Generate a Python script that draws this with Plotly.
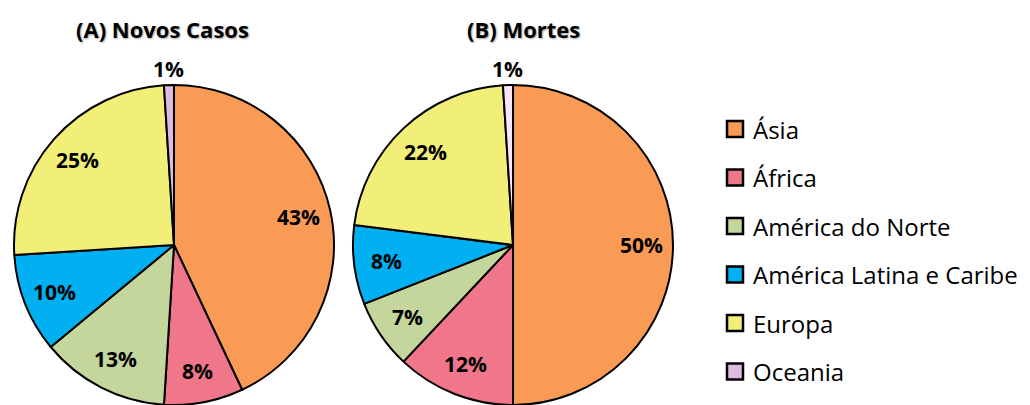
import math
import plotly.graph_objects as go

# Regional shares (%) of new cases and deaths
regions = ["Ásia", "África", "América do Norte", "América Latina e Caribe", "Europa", "Oceania"]
novos_casos = [43, 8, 13, 10, 25, 1]
mortes = [50, 12, 7, 8, 22, 1]
titles = ["(A) Novos Casos", "(B) Mortes"]

colors = ["#F99B55", "#EF7789", "#C4D69C", "#00B0F0", "#F1EF77", "#DCBDE0"]
colors_mortes = ["#F99B55", "#EF7789", "#C4D69C", "#00B0F0", "#F1EF77", "#F8E4FA"]

W, H = 1030, 405
R = 160                       # pie radius in px
CENTERS = [(174, 245), (513, 245)]
TITLE_X = [162, 523]
FONT = "Open Sans"

fig = go.Figure()
annotations = []
shapes = []


def px_to_paper(x, y):
    return x / W, 1 - y / H


for (cx, cy), values, title, cols, title_x in zip(
        CENTERS, [novos_casos, mortes], titles, [colors, colors_mortes], TITLE_X):
    x0, _ = px_to_paper(cx - R, 0)
    x1, _ = px_to_paper(cx + R, 0)
    _, y0 = px_to_paper(0, cy + R)
    _, y1 = px_to_paper(0, cy - R)
    fig.add_trace(go.Pie(
        labels=regions,
        values=values,
        sort=False,
        direction="clockwise",
        rotation=0,
        marker=dict(colors=cols, line=dict(color="black", width=2)),
        textinfo="none",
        hoverinfo="label+percent",
        showlegend=False,
        domain=dict(x=[x0, x1], y=[max(y0, 0), y1]),
    ))

    # percentage labels placed along each slice's mid angle
    total = sum(values)
    cum = 0
    for v in values:
        mid = (cum + v / 2) / total * 2 * math.pi
        cum += v
        frac = 1.1 if v / total < 0.03 else 0.8
        lx = cx + frac * R * math.sin(mid)
        ly = cy - frac * R * math.cos(mid)
        px, py = px_to_paper(lx, ly)
        annotations.append(dict(
            x=px, y=py, xref="paper", yref="paper",
            text=f"<b>{v}%</b>", showarrow=False,
            font=dict(family=FONT, size=21, color="black"),
            xanchor="center", yanchor="middle",
        ))

    # chart title
    tx, ty = px_to_paper(title_x, 29)
    annotations.append(dict(
        x=tx, y=ty, xref="paper", yref="paper",
        text=f"<b>{title}</b>", showarrow=False,
        font=dict(family=FONT, size=22, color="black",
                  shadow="1px 1px 2px rgba(0,0,0,0.35)"),
        xanchor="center", yanchor="middle",
    ))

# legend drawn as squares + text
LEG_X = 727
LEG_Y0 = 129
LEG_DY = 48.5
SQ = 16
for i, (name, col) in enumerate(zip(regions, colors)):
    yc = LEG_Y0 + i * LEG_DY
    sx0, sy0 = px_to_paper(LEG_X, yc - SQ / 2)
    sx1, sy1 = px_to_paper(LEG_X + SQ, yc + SQ / 2)
    shapes.append(dict(
        type="rect", xref="paper", yref="paper",
        x0=sx0, x1=sx1, y0=sy1, y1=sy0,
        fillcolor=col, line=dict(color="black", width=2.5),
    ))
    tx, ty = px_to_paper(LEG_X + SQ + 8, yc)
    annotations.append(dict(
        x=tx, y=ty, xref="paper", yref="paper",
        text=name, showarrow=False,
        font=dict(family=FONT, size=24, color="black"),
        xanchor="left", yanchor="middle",
    ))

fig.update_layout(
    width=W, height=H,
    margin=dict(l=0, r=0, t=0, b=0),
    paper_bgcolor="white",
    plot_bgcolor="white",
    annotations=annotations,
    shapes=shapes,
)

fig.write_html("out.html")
